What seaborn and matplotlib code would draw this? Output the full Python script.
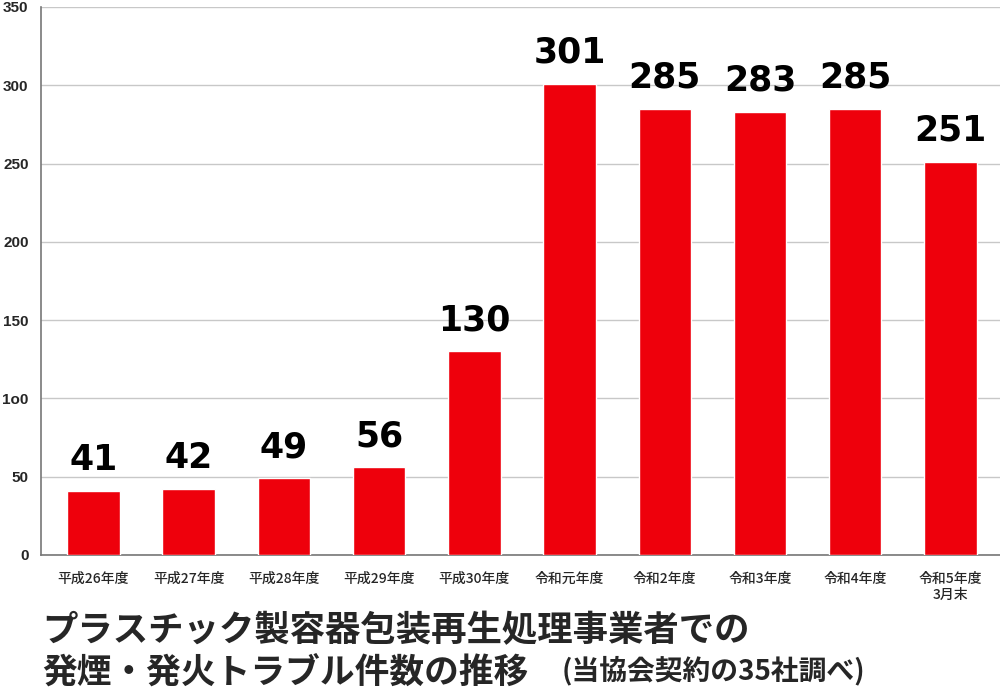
import matplotlib
matplotlib.use('Agg')
import matplotlib.pyplot as plt
import seaborn as sns
import pandas as pd

years = ['平成26年度', '平成27年度', '平成28年度', '平成29年度', '平成30年度',
         '令和元年度', '令和2年度', '令和3年度', '令和4年度', '令和5年度\n3月末']
counts = [41, 42, 49, 56, 130, 301, 285, 283, 285, 251]
y_ticks = [0, 50, 100, 150, 200, 250, 300, 350]
y_tick_labels = ['0', '50', '1o0', '150', '200', '250', '300', '350']

df = pd.DataFrame({'year': years, 'count': counts})

sns.set_theme(style="white")
plt.rcParams['font.family'] = ['Noto Sans CJK JP', 'DejaVu Sans']

fig = plt.figure(figsize=(10, 6.92), dpi=100)
ax = fig.add_axes([0.041, 0.198, 0.959, 0.792])

sns.barplot(data=df, x='year', y='count', color='#ee000c', width=0.55,
            saturation=1, ax=ax, zorder=3)

# value labels above bars
for i, v in enumerate(counts):
    ax.text(i, v + 9, str(v), ha='center', va='bottom', fontsize=25,
            fontweight='heavy', family='DejaVu Sans', color='black', zorder=4)

ax.set_ylim(0, 350)
ax.set_xlim(-0.55, 9.52)
ax.set_yticks(y_ticks)
ax.set_yticklabels(y_tick_labels, fontsize=11, family='Liberation Sans',
                   fontweight='bold')
ax.yaxis.grid(True, color='#c8c8c8', linewidth=1, zorder=0)
ax.tick_params(axis='x', labelsize=10, length=0, pad=12)
ax.tick_params(axis='y', length=0, pad=9)
for lbl in ax.get_xticklabels():
    lbl.set_fontweight('medium')
ax.set_xlabel('')
ax.set_ylabel('')
for s in ['top', 'right']:
    ax.spines[s].set_visible(False)
for s in ['left', 'bottom']:
    ax.spines[s].set_color('#777777')
    ax.spines[s].set_linewidth(1.2)

# title below the chart
fig.text(0.042, 0.089, 'プラスチック製容器包装再生処理事業者での', fontsize=25.5,
         fontweight='bold', va='center', ha='left')
fig.text(0.042, 0.029, '発煙・発火トラブル件数の推移', fontsize=25,
         fontweight='bold', va='center', ha='left')
fig.text(0.562, 0.031, '(当協会契約の35社調べ)', fontsize=20,
         fontweight='bold', va='center', ha='left')

fig.savefig('out.png', dpi=100)
plt.close(fig)
